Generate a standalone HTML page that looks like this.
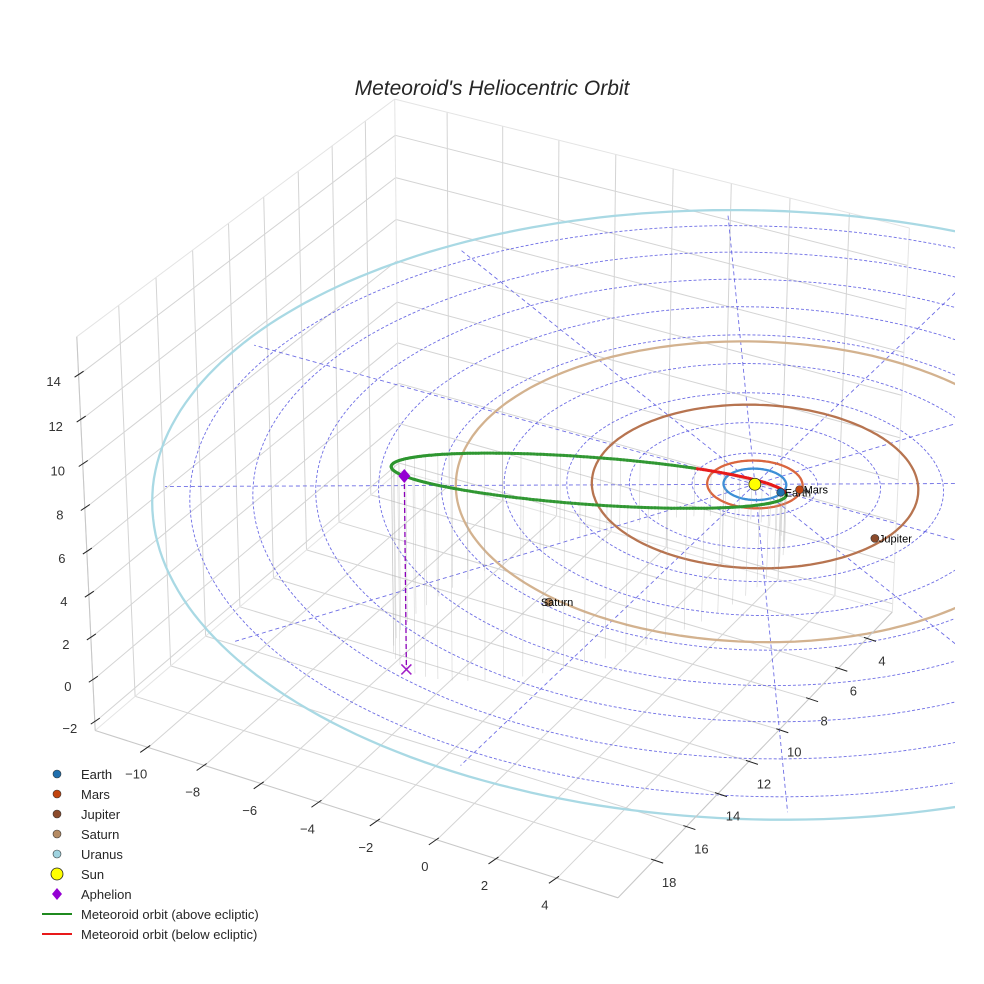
<!DOCTYPE html>
<html><head><meta charset="utf-8"><title>Meteoroid's Heliocentric Orbit</title>
<style>
html,body{margin:0;padding:0;background:#fff;}
svg{display:block;font-family:"Liberation Sans",sans-serif;}
</style></head>
<body>
<svg id="chart" width="984" height="984" viewBox="0 0 984 984" xmlns="http://www.w3.org/2000/svg">
<defs><clipPath id="plotclip"><rect x="0" y="0" width="955" height="984"/></clipPath></defs>
<rect x="0" y="0" width="984" height="984" fill="#fff"/>
<text x="492" y="95" text-anchor="middle" font-size="21" font-style="italic" fill="#262626">Meteoroid's Heliocentric Orbit</text>
<g id="panes"></g>
<g id="plot" clip-path="url(#plotclip)"></g>
<g id="axes"></g>
<g id="legend"></g>
</svg>
<script>
// ---- chart data ----
const xTicks = [-10,-8,-6,-4,-2,0,2,4];
const yTicks = [4,6,8,10,12,14,16,18];
const zTicks = [-2,0,2,4,6,8,10,12,14];
const limX = [-11.9, 6.0];
const limY = [2.2, 20.2];
const limZ = [-2.4, 15.7];
const planetNames = ["Earth","Mars","Jupiter","Saturn","Uranus"];
const planetOrbitRadius = [1.0, 1.52, 5.2, 9.54, 19.19];
const planetRadiusNow = [0.95, 1.45, 4.95, 9.8, 19.2];
const planetAngleDeg = [3, -16, 13.5, 103, -25];
const planetColors = ["#1f6fae","#c1440e","#8b4a2b","#b58b63","#9fd3e0"];
const orbitColors = ["#3d8fd6","#d9663f","#b77450","#d3b28f","#a9d9e4"];
const eclipticRings = [2,4,6,8,10,12,14,16,18];
const eclipticSpokeLength = [18.8];
const eclipticSpokesDeg = [0,30,60,90,120,150,180,210,240,270,300,330];
const meteorAphelion = [-5.5, 12.6, 6.8];
const meteorPerihelionDist = [0.75];
const meteorMinorDir = [0.94, 0.29, 0.17];

// ---- calibration of projection (landmarks of the 3D box) ----
const calib3d = [[-11.9,20.2,-2.4],[-11.9,20.2,15.7],[6.0,20.2,-2.4],[6.0,2.2,-2.4],[-11.9,2.2,15.7],[0,0,0],[-10,20.2,-2.4],[4,20.2,-2.4],[6,4,-2.4],[6,18,-2.4],[-11.9,20.2,14]];
const calib2d = [[99,727],[81,335],[618,895],[895,612],[405,102],[751,485],[153,743],[560,875],[867,641],[652,861],[80,372]];
const cb = [(limX[0]+limX[1])/2,(limY[0]+limY[1])/2,(limZ[0]+limZ[1])/2];
let P = [0.49,0.6,60,28,510,500,1];
function projWith(p,x,y,z){
  const a=p[0],e=p[1],D=p[2],S=p[3];
  const rx=x-cb[0], ry=y-cb[1], rz=(z-cb[2])*p[6];
  const ca=Math.cos(a),sa=Math.sin(a),ce=Math.cos(e),se=Math.sin(e);
  const dr=rx*ca-ry*sa;
  const du=-se*sa*rx-se*ca*ry+ce*rz;
  const df=-ce*sa*rx-ce*ca*ry-se*rz;
  const k=S*D/(D+df);
  return [p[4]+k*dr, p[5]-k*du];
}
function circleExt(p,r){
  let mnx=1e9,mxx=-1e9,mny=1e9,mxy=-1e9;
  for(let i=0;i<90;i++){const t=i/90*2*Math.PI;const q=projWith(p,r*Math.cos(t),r*Math.sin(t),0);
    mnx=Math.min(mnx,q[0]);mxx=Math.max(mxx,q[0]);mny=Math.min(mny,q[1]);mxy=Math.max(mxy,q[1]);}
  return [mnx,mxx,mny,mxy];
}
function loss(p){
  if(p[2]<8||p[3]<5) return 1e12;
  let L=0;
  for(let i=0;i<calib3d.length;i++){const q=projWith(p,...calib3d[i]);L+=(q[0]-calib2d[i][0])**2+(q[1]-calib2d[i][1])**2;}
  const u=circleExt(p,19.19); L+=(u[0]-130)**2+(u[2]-218)**2+(u[3]-836)**2;
  const j=circleExt(p,5.2); L+=(j[0]-593)**2+(j[1]-915)**2+(j[2]-402)**2+(j[3]-567)**2;
  const s=circleExt(p,9.54); L+=(s[2]-333)**2;
  return L;
}
function nelder(f,x0,step,iters){
  const n=x0.length;let s=[x0.slice()];
  for(let i=0;i<n;i++){const x=x0.slice();x[i]+=step[i];s.push(x);}
  let v=s.map(f);
  for(let it=0;it<iters;it++){
    const idx=[...Array(n+1).keys()].sort((a,b)=>v[a]-v[b]);
    s=idx.map(i=>s[i]);v=idx.map(i=>v[i]);
    const c=new Array(n).fill(0);
    for(let i=0;i<n;i++)for(let j=0;j<n;j++)c[j]+=s[i][j]/n;
    const xr=c.map((cj,j)=>cj+(cj-s[n][j]));const fr=f(xr);
    if(fr<v[0]){const xe=c.map((cj,j)=>cj+2*(cj-s[n][j]));const fe=f(xe);
      if(fe<fr){s[n]=xe;v[n]=fe;}else{s[n]=xr;v[n]=fr;}}
    else if(fr<v[n-1]){s[n]=xr;v[n]=fr;}
    else{const xc=c.map((cj,j)=>cj+0.5*(s[n][j]-cj));const fc=f(xc);
      if(fc<v[n]){s[n]=xc;v[n]=fc;}
      else{for(let i=1;i<=n;i++){s[i]=s[i].map((sv,j)=>s[0][j]+0.5*(sv-s[0][j]));v[i]=f(s[i]);}}}
  }
  let b=0;for(let i=1;i<=n;i++)if(v[i]<v[b])b=i;return s[b];
}
const stepSz=[0.1,0.1,20,4,30,30,0.1];
for(let r=0;r<4;r++){P=nelder(loss,P,stepSz,1500);}
function proj(x,y,z){return projWith(P,x,y,z);}

// ---- drawing helpers ----
const NS="http://www.w3.org/2000/svg";
function mk(parent,tag,attrs){const el=document.createElementNS(NS,tag);for(const k in attrs)el.setAttribute(k,attrs[k]);parent.appendChild(el);return el;}
function pathOf(pts){return pts.map((q,i)=>(i?"L":"M")+q[0].toFixed(1)+" "+q[1].toFixed(1)).join(" ");}
const panes=document.getElementById('panes'),plot=document.getElementById('plot'),axes=document.getElementById('axes'),legend=document.getElementById('legend');

// ---- panes & grid ----
const [x0,x1]=limX,[y0,y1]=limY,[z0,z1]=limZ;
const gridLines=[];
xTicks.forEach(x=>{gridLines.push([[x,y0,z0],[x,y1,z0]]);gridLines.push([[x,y0,z0],[x,y0,z1]]);});
yTicks.forEach(y=>{gridLines.push([[x0,y,z0],[x1,y,z0]]);gridLines.push([[x0,y,z0],[x0,y,z1]]);});
zTicks.forEach(z=>{gridLines.push([[x0,y0,z],[x0,y1,z]]);gridLines.push([[x0,y0,z],[x1,y0,z]]);});
gridLines.forEach(l=>{
  const el=mk(panes,'path',{d:pathOf([proj(...l[0]),proj(...l[1])]),stroke:"#d4d4d4","stroke-width":1,fill:"none"});
  
  
});
const edges=[[[x0,y0,z1],[x1,y0,z1]],[[x0,y0,z1],[x0,y1,z1]],[[x0,y0,z0],[x0,y0,z1]],[[x1,y0,z0],[x1,y0,z1]],[[x0,y1,z0],[x0,y1,z1]],[[x0,y0,z0],[x1,y0,z0]],[[x0,y0,z0],[x0,y1,z0]]];
edges.forEach(l=>{
  const el=mk(panes,'path',{d:pathOf([proj(...l[0]),proj(...l[1])]),stroke:"#e4e4e4","stroke-width":1,fill:"none"});
  
  
});

// ---- ecliptic dashed grid ----
eclipticRings.forEach(r=>{
  const pts=[];for(let i=0;i<=180;i++){const t=i/180*2*Math.PI;pts.push(proj(r*Math.cos(t),r*Math.sin(t),0));}
  const el=mk(plot,'path',{d:pathOf(pts),stroke:"#5555e0","stroke-width":0.9,"stroke-dasharray":"3,2",fill:"none",opacity:0.85});
  
  
});
const Rmax=eclipticSpokeLength[0];
eclipticSpokesDeg.forEach(d=>{
  const t=d*Math.PI/180;
  const el=mk(plot,'path',{d:pathOf([proj(0,0,0),proj(Rmax*Math.cos(t),Rmax*Math.sin(t),0)]),stroke:"#5555e0","stroke-width":0.9,"stroke-dasharray":"4,3",fill:"none",opacity:0.85});
  
  
});

// ---- planet orbits ----
planetOrbitRadius.forEach((r,i)=>{
  const pts=[];for(let k=0;k<=240;k++){const t=k/240*2*Math.PI;pts.push(proj(r*Math.cos(t),r*Math.sin(t),0));}
  const el=mk(plot,'path',{d:pathOf(pts),stroke:orbitColors[i],"stroke-width":2.3,fill:"none"});
  
  
});

// ---- meteoroid orbit ----
const A=meteorAphelion,Q=Math.hypot(...A),qd=meteorPerihelionDist[0];
const u=A.map(v=>v/Q);
let w=meteorMinorDir.slice();const wd=w[0]*u[0]+w[1]*u[1]+w[2]*u[2];w=w.map((v,i)=>v-wd*u[i]);const wn=Math.hypot(...w);w=w.map(v=>v/wn);
const sa=(Q+qd)/2,sc=(Q-qd)/2,sb=Math.sqrt(Q*qd);
const orb=[];for(let k=0;k<=360;k++){const E=k/360*2*Math.PI;orb.push([0,1,2].map(i=>u[i]*sc+sa*Math.cos(E)*u[i]+sb*Math.sin(E)*w[i]));}
// drop lines
for(let k=0;k<360;k+=6){
  const p=orb[k];const a1=proj(p[0],p[1],p[2]),a2=proj(p[0],p[1],z0);
  const el=mk(plot,'path',{d:pathOf([a1,a2]),stroke:"#a8a8a8","stroke-width":0.6,fill:"none",opacity:0.5});
  
  
}
for(let k=0;k<360;k++){
  const p1=orb[k],p2=orb[k+1];const below=(p1[2]+p2[2])/2<0;
  const el=mk(plot,'path',{d:pathOf([proj(...p1),proj(...p2)]),stroke:below?"#e8191a":"#2e9630","stroke-width":3,fill:"none","stroke-linecap":"round",opacity:0.9});
  
  
}
// aphelion
const ap=proj(...A),apf=proj(A[0],A[1],z0);
const dl=mk(plot,'path',{d:pathOf([ap,apf]),stroke:"#8a00b8","stroke-width":1.3,"stroke-dasharray":"5,3",fill:"none"});


const xm=mk(plot,'path',{d:`M${apf[0]-5} ${apf[1]-5}L${apf[0]+5} ${apf[1]+5}M${apf[0]-5} ${apf[1]+5}L${apf[0]+5} ${apf[1]-5}`,stroke:"#a020c8","stroke-width":1.5,fill:"none"});


const dm=mk(plot,'path',{d:`M${ap[0]} ${ap[1]-7}L${ap[0]+6} ${ap[1]}L${ap[0]} ${ap[1]+7}L${ap[0]-6} ${ap[1]}Z`,fill:"#9400d3"});



// ---- sun & planets ----
const sp=proj(0,0,0);
const sun=mk(plot,'circle',{cx:sp[0],cy:sp[1],r:6,fill:"#ffff00",stroke:"#222","stroke-width":0.8});


planetNames.forEach((n,i)=>{
  const t=planetAngleDeg[i]*Math.PI/180,r=planetRadiusNow[i];
  const q=proj(r*Math.cos(t),r*Math.sin(t),0);
  const c=mk(plot,'circle',{cx:q[0],cy:q[1],r:4,fill:planetColors[i],stroke:"#333","stroke-width":0.6});
  
  
  const tx=mk(plot,'text',{x:q[0]+(n==="Saturn"?-8:4),y:q[1]+4,"font-size":11,fill:"#000"});
  tx.textContent=n;
  
  
});

// ---- axes, ticks, labels ----
[[[x0,y1,z0],[x1,y1,z0]],[[x1,y0,z0],[x1,y1,z0]],[[x0,y1,z0],[x0,y1,z1]]].forEach((l,i)=>{
  const el=mk(axes,'path',{d:pathOf([proj(...l[0]),proj(...l[1])]),stroke:"#c8c8c8","stroke-width":1.1,fill:"none"});
  
  
});
xTicks.forEach(v=>{
  const q=proj(v,y1,z0);
  const t=mk(axes,'path',{d:`M${q[0]+2} ${q[1]-2}L${q[0]-8} ${q[1]+5}`,stroke:"#222","stroke-width":1});
  
  
  const tx=mk(axes,'text',{x:q[0]-12,y:q[1]+31,"font-size":13,fill:"#333","text-anchor":"middle"});
  tx.textContent=v<0?"\u2212"+(-v):String(v);
  
  
});
yTicks.forEach(v=>{
  const q=proj(x1,v,z0);
  const t=mk(axes,'path',{d:`M${q[0]-3} ${q[1]-1}L${q[0]+9} ${q[1]+3}`,stroke:"#222","stroke-width":1});
  
  
  const tx=mk(axes,'text',{x:q[0]+15,y:q[1]+27,"font-size":13,fill:"#333","text-anchor":"middle"});
  tx.textContent=String(v);
  
  
});
zTicks.forEach(v=>{
  const q=proj(x0,y1,v);
  const t=mk(axes,'path',{d:`M${q[0]-4} ${q[1]+2}L${q[0]+5} ${q[1]-4}`,stroke:"#222","stroke-width":1});
  
  
  const tx=mk(axes,'text',{x:q[0]-25,y:q[1]+11,"font-size":13,fill:"#333","text-anchor":"middle"});
  tx.textContent=v<0?"\u2212"+(-v):String(v);
  
  
});

// ---- legend ----
const legendLabels=["Earth","Mars","Jupiter","Saturn","Uranus","Sun","Aphelion","Meteoroid orbit (above ecliptic)","Meteoroid orbit (below ecliptic)"];
legendLabels.forEach((lab,i)=>{
  const y=774+i*20;
  let m;
  if(i<5){m=mk(legend,'circle',{cx:57,cy:y,r:4,fill:planetColors[i],stroke:"#333","stroke-width":0.6});}
  else if(i===5){m=mk(legend,'circle',{cx:57,cy:y,r:6,fill:"#ffff00",stroke:"#222","stroke-width":0.8});}
  else if(i===6){m=mk(legend,'path',{d:`M57 ${y-6}L62 ${y}L57 ${y+6}L52 ${y}Z`,fill:"#9400d3"});}
  else{m=mk(legend,'path',{d:`M42 ${y}L72 ${y}`,stroke:i===7?"#1f8a1f":"#e8191a","stroke-width":2});}
  
  
  const tx=mk(legend,'text',{x:81,y:y+5,"font-size":13,fill:"#262626"});
  tx.textContent=lab;
  
  
});
</script>
</body></html>
